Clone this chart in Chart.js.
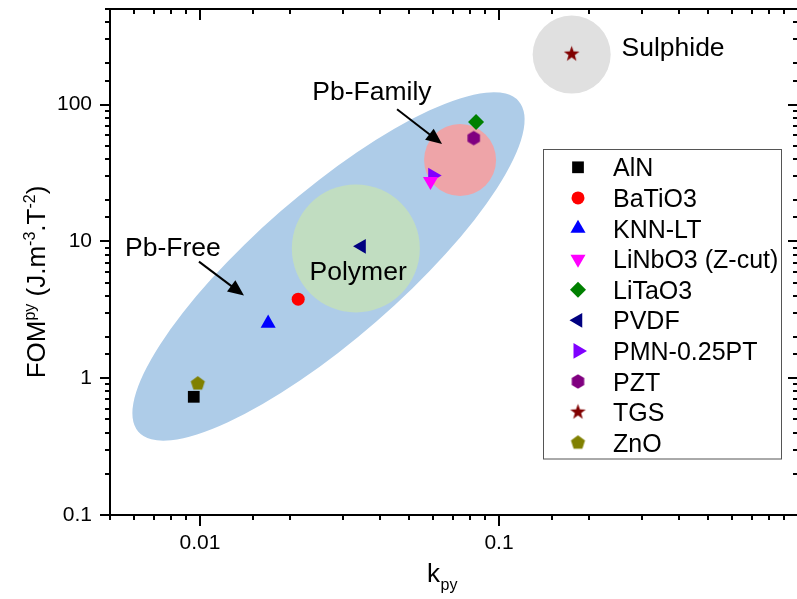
<!DOCTYPE html>
<html>
<head>
<meta charset="utf-8">
<script src="https://cdn.jsdelivr.net/npm/chart.js@4/dist/chart.umd.min.js"></script>
<style>
html,body{margin:0;padding:0;overflow:hidden;background:#fff}
#wrap{width:840px;height:599px}
</style>
</head>
<body>
<div id="wrap"><canvas id="c" width="800" height="599"></canvas></div>
<script>
// ---------------- DATA ----------------
const materials = ['AlN','BaTiO3','KNN-LT','LiNbO3 (Z-cut)','LiTaO3','PVDF','PMN-0.25PT','PZT','TGS','ZnO'];
const kpy = [0.00953, 0.0213, 0.0169, 0.0590, 0.0838, 0.0347, 0.0600, 0.0823, 0.175, 0.00983];
const fom = [0.731, 3.78, 2.52, 27.5, 74.5, 9.2, 30.3, 56.9, 234, 0.913];
const xTickLabels = [0.01, 0.1];
const yTickLabels = [0.1, 1, 10, 100];
// shaded regions: centers in data coordinates
const regionNames = ['Pb-Free', 'Polymer', 'Pb-Family', 'Sulphide'];
const regionX = [0.0269, 0.0332, 0.0741, 0.175];
const regionY = [6.56, 8.89, 39.4, 232];
// annotation texts (anchored at baseline centre, data coordinates)
const noteTexts = ['Pb-Family', 'Pb-Free', 'Polymer', 'Sulphide'];
const noteX = [0.0376, 0.00812, 0.0338, 0.382];
const noteY = [107.6, 7.87, 5.26, 225];
// arrows (data coordinates)
const arrowFromX = [0.0456, 0.00992];
const arrowFromY = [92.6, 7.11];
const arrowToX = [0.0645, 0.01403];
const arrowToY = [51.5, 4.02];

// ---------------- STYLES ----------------
const FONT = "'Liberation Sans', Arial, Helvetica, sans-serif";
const colors = ['#000000','#ff0000','#0000ff','#ff00ff','#008000','#000080','#8000ff','#800080','#800000','#808000'];
const regionFill = ['#aecce8', '#c1ddc1', '#eea4a8', '#e0e0e0'];
// region geometry in pixels: [semi-major, semi-minor, rotation(deg)]
const regionGeom = [[252, 73, -41], [64, 64, 0], [36, 36, 0], [39, 39, 0]];
const AREA_RIGHT = 798;

function polyMarker(color, n, r, inner) {
  const s = Math.ceil(2 * r + 2);
  const c = document.createElement('canvas');
  c.width = c.height = s;
  const g = c.getContext('2d');
  g.fillStyle = color;
  g.beginPath();
  const pts = inner ? 2 * n : n;
  for (let k = 0; k < pts; k++) {
    const a = -Math.PI / 2 + k * 2 * Math.PI / pts;
    const rr = (inner && k % 2) ? inner : r;
    const px = s / 2 + rr * Math.cos(a), py = s / 2 + rr * Math.sin(a);
    if (k) g.lineTo(px, py); else g.moveTo(px, py);
  }
  g.closePath();
  g.fill();
  return c;
}
const markerStyle = ['rect','circle','triangle','triangle','rectRot','triangle','triangle',
  polyMarker(colors[7], 6, 7.2), polyMarker(colors[8], 5, 8.2, 3.3), polyMarker(colors[9], 5, 7.4)];
const markerRot = [0, 0, 0, 180, 0, 270, 90, 0, 0, 0];
const markerRadius = [8.3, 6.5, 8.7, 8.7, 8, 8.5, 9, 7.2, 8, 7.4];

const datasets = materials.map((m, i) => ({
  label: m,
  data: [{x: kpy[i], y: fom[i]}],
  backgroundColor: colors[i],
  borderColor: colors[i],
  borderWidth: 0,
  pointStyle: markerStyle[i],
  rotation: markerRot[i],
  pointRadius: markerRadius[i],
  pointHoverRadius: markerRadius[i]
}));

const isMajor = v => Math.abs(Math.log10(v) - Math.round(Math.log10(v))) < 1e-6;
const fmt = v => String(+v.toPrecision(6));

function line(ctx, x1, y1, x2, y2) {
  ctx.beginPath(); ctx.moveTo(x1, y1); ctx.lineTo(x2, y2); ctx.stroke();
}
function arrow(ctx, x1, y1, x2, y2) {
  const ang = Math.atan2(y2 - y1, x2 - x1);
  const hl = 16, hw = 7;
  const bx = x2 - hl * Math.cos(ang), by = y2 - hl * Math.sin(ang);
  ctx.lineWidth = 2;
  line(ctx, x1, y1, bx + 2 * Math.cos(ang), by + 2 * Math.sin(ang));
  ctx.beginPath();
  ctx.moveTo(x2, y2);
  ctx.lineTo(bx + hw * Math.sin(ang), by - hw * Math.cos(ang));
  ctx.lineTo(bx - hw * Math.sin(ang), by + hw * Math.cos(ang));
  ctx.closePath();
  ctx.fill();
}
function richText(ctx, parts, startX, baseY, big, small, raise) {
  let xx = startX;
  parts.forEach(p => {
    ctx.font = (p.sup || p.sub ? small : big) + 'px ' + FONT;
    const dy = p.sup ? -raise : (p.sub ? raise : 0);
    ctx.fillText(p.t, xx, baseY + dy);
    xx += ctx.measureText(p.t).width;
  });
}
function richWidth(ctx, parts, big, small) {
  let w = 0;
  parts.forEach(p => { ctx.font = (p.sup || p.sub ? small : big) + 'px ' + FONT; w += ctx.measureText(p.t).width; });
  return w;
}

const overlay = {
  id: 'overlay',
  beforeDatasetsDraw(chart) {
    const {ctx, scales: {x, y}} = chart;
    ctx.save();
    regionNames.forEach((n, i) => {
      const cx = x.getPixelForValue(regionX[i]), cy = y.getPixelForValue(regionY[i]);
      const [a, b, rot] = regionGeom[i];
      ctx.fillStyle = regionFill[i];
      ctx.beginPath();
      ctx.ellipse(cx, cy, a, b, rot * Math.PI / 180, 0, 2 * Math.PI);
      ctx.fill();
    });
    ctx.fillStyle = '#000';
    ctx.strokeStyle = '#000';
    ctx.font = '26.5px ' + FONT;
    ctx.textAlign = 'center';
    ctx.textBaseline = 'alphabetic';
    noteTexts.forEach((t, i) => {
      ctx.fillText(t, x.getPixelForValue(noteX[i]), y.getPixelForValue(noteY[i]));
    });
    arrowFromX.forEach((v, i) => {
      arrow(ctx, x.getPixelForValue(v), y.getPixelForValue(arrowFromY[i]),
        x.getPixelForValue(arrowToX[i]), y.getPixelForValue(arrowToY[i]));
    });
    ctx.restore();
  },
  afterDraw(chart) {
    const {ctx, chartArea: a, scales: {x, y}} = chart;
    ctx.save();
    ctx.strokeStyle = '#000';
    ctx.lineWidth = 2;
    x.ticks.forEach(t => {
      const p = Math.round(x.getPixelForValue(t.value));
      const L = isMajor(t.value) ? 11 : 5;
      line(ctx, p, a.bottom, p, a.bottom + L);
      line(ctx, p, a.top, p, a.top + L);
    });
    y.ticks.forEach(t => {
      const p = Math.round(y.getPixelForValue(t.value));
      const L = isMajor(t.value) ? 10 : 5;
      line(ctx, a.left - L, p, a.left, p);
      line(ctx, a.right - L, p, a.right, p);
    });
    line(ctx, a.left - 1, a.top, a.right + 1, a.top);
    line(ctx, a.right, a.top, a.right, a.bottom);

    // legend
    const lx = 543.5, ly = 149.5, lw = 238, lh = 309.5;
    ctx.fillStyle = '#fff';
    ctx.fillRect(lx, ly, lw, lh);
    ctx.lineWidth = 1;
    ctx.strokeStyle = '#555';
    ctx.strokeRect(lx, ly, lw, lh);
    ctx.font = '25px ' + FONT;
    ctx.textAlign = 'left';
    ctx.textBaseline = 'alphabetic';
    chart.data.datasets.forEach((ds, i) => {
      const cy = 167.3 + i * 30.6;
      ctx.fillStyle = ds.backgroundColor;
      Chart.helpers.drawPoint(ctx, {pointStyle: ds.pointStyle, rotation: ds.rotation, radius: ds.pointRadius, borderWidth: 0}, 578, cy);
      ctx.fillStyle = '#000';
      ctx.fillText(ds.label, 613, cy + 9);
    });

    // axis titles
    ctx.fillStyle = '#000';
    ctx.textAlign = 'left';
    ctx.textBaseline = 'alphabetic';
    ctx.font = '26px ' + FONT;
    ctx.fillText('k', 427, 582);
    const kw = ctx.measureText('k').width;
    ctx.font = '16px ' + FONT;
    ctx.fillText('py', 427 + kw + 0.5, 590);

    const parts = [{t: 'FOM'}, {t: 'py', sup: true}, {t: ' (J.m'}, {t: '-3', sup: true}, {t: '.T'}, {t: '-2', sup: true}, {t: ')'}];
    const w = richWidth(ctx, parts, 26, 16);
    ctx.translate(45, 282);
    ctx.rotate(-Math.PI / 2);
    richText(ctx, parts, -w / 2, 0, 26, 16, 10);
    ctx.restore();
  }
};

function noPad(s) { s.paddingTop = 0; s.paddingBottom = 0; s.paddingLeft = 0; s.paddingRight = 0; }

const tickFont = {family: FONT, size: 21};
const chart = new Chart(document.getElementById('c'), {
  type: 'scatter',
  data: {datasets},
  options: {
    responsive: false,
    maintainAspectRatio: false,
    animation: false,
    devicePixelRatio: 1,
    layout: {padding: {top: 7, right: 2, left: 0, bottom: 0}},
    plugins: {legend: {display: false}, tooltip: {enabled: false}},
    scales: {
      x: {
        type: 'logarithmic', position: 'bottom', min: 0.005, max: 1,
        grid: {display: true, drawOnChartArea: false, drawTicks: true, tickLength: 11, color: 'rgba(0,0,0,0)'},
        border: {display: true, color: '#000', width: 2},
        ticks: {autoSkip: false, maxRotation: 0, minRotation: 0, padding: 5, color: '#000', font: tickFont,
          callback: v => xTickLabels.some(t => Math.abs(Math.log10(t) - Math.log10(v)) < 1e-6) ? fmt(v) : ''},
        afterFit(s) { s.height = 84; noPad(s); }
      },
      y: {
        type: 'logarithmic', position: 'left', min: 0.1, max: 500,
        grid: {display: true, drawOnChartArea: false, drawTicks: true, tickLength: 10, color: 'rgba(0,0,0,0)'},
        border: {display: true, color: '#000', width: 2},
        ticks: {autoSkip: false, padding: 8, color: '#000', font: tickFont,
          callback: v => yTickLabels.some(t => Math.abs(Math.log10(t) - Math.log10(v)) < 1e-6) ? fmt(v) : ''},
        afterFit(s) { s.width = 110; noPad(s); }
      }
    }
  },
  plugins: [overlay]
});
// widen the canvas so the plot frame lands where the reference has it (right edge just off-page)
const dw = Math.round(AREA_RIGHT - chart.chartArea.right);
if (dw !== 0) chart.resize(chart.width + dw, chart.height);
</script>
</body>
</html>
